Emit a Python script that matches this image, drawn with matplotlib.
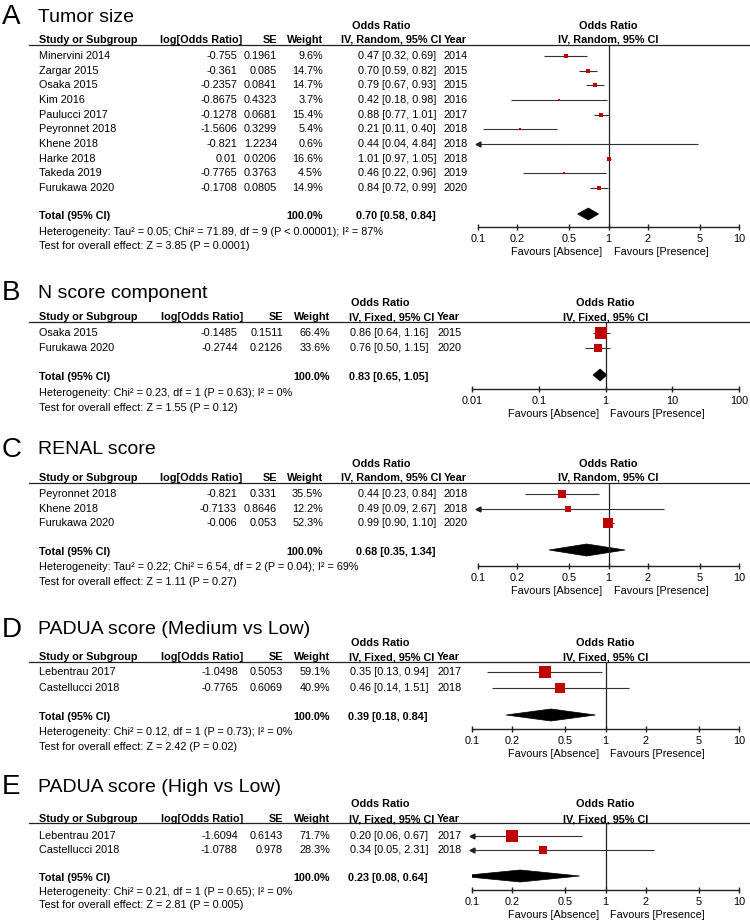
import matplotlib
matplotlib.use("Agg")
import matplotlib.pyplot as plt
from matplotlib.patches import Polygon
from matplotlib.ticker import FixedLocator, FixedFormatter, NullLocator
import numpy as np

plt.rcParams['font.family'] = ['Liberation Sans', 'DejaVu Sans']

W, H = 750, 923

# ---------------- Data ----------------
# A: Tumor size (random effects)
a_studies = ["Minervini 2014", "Zargar 2015", "Osaka 2015", "Kim 2016", "Paulucci 2017",
             "Peyronnet 2018", "Khene 2018", "Harke 2018", "Takeda 2019", "Furukawa 2020"]
a_logor = ["-0.755", "-0.361", "-0.2357", "-0.8675", "-0.1278", "-1.5606", "-0.821", "0.01", "-0.7765", "-0.1708"]
a_se = ["0.1961", "0.085", "0.0841", "0.4323", "0.0681", "0.3299", "1.2234", "0.0206", "0.3763", "0.0805"]
a_weight = [9.6, 14.7, 14.7, 3.7, 15.4, 5.4, 0.6, 16.6, 4.5, 14.9]
a_or = [0.47, 0.70, 0.79, 0.42, 0.88, 0.21, 0.44, 1.01, 0.46, 0.84]
a_lo = [0.32, 0.59, 0.67, 0.18, 0.77, 0.11, 0.04, 0.97, 0.22, 0.72]
a_hi = [0.69, 0.82, 0.93, 0.98, 1.01, 0.40, 4.84, 1.05, 0.96, 0.99]
a_year = [2014, 2015, 2015, 2016, 2017, 2018, 2018, 2018, 2019, 2020]
a_total = [0.70, 0.58, 0.84]
a_het = "Heterogeneity: Tau\u00b2 = 0.05; Chi\u00b2 = 71.89, df = 9 (P < 0.00001); I\u00b2 = 87%"
a_test = "Test for overall effect: Z = 3.85 (P = 0.0001)"

# B: N score component (fixed effect)
b_studies = ["Osaka 2015", "Furukawa 2020"]
b_logor = ["-0.1485", "-0.2744"]
b_se = ["0.1511", "0.2126"]
b_weight = [66.4, 33.6]
b_or = [0.86, 0.76]
b_lo = [0.64, 0.50]
b_hi = [1.16, 1.15]
b_year = [2015, 2020]
b_total = [0.83, 0.65, 1.05]
b_het = "Heterogeneity: Chi\u00b2 = 0.23, df = 1 (P = 0.63); I\u00b2 = 0%"
b_test = "Test for overall effect: Z = 1.55 (P = 0.12)"

# C: RENAL score (random effects)
c_studies = ["Peyronnet 2018", "Khene 2018", "Furukawa 2020"]
c_logor = ["-0.821", "-0.7133", "-0.006"]
c_se = ["0.331", "0.8646", "0.053"]
c_weight = [35.5, 12.2, 52.3]
c_or = [0.44, 0.49, 0.99]
c_lo = [0.23, 0.09, 0.90]
c_hi = [0.84, 2.67, 1.10]
c_year = [2018, 2018, 2020]
c_total = [0.68, 0.35, 1.34]
c_het = "Heterogeneity: Tau\u00b2 = 0.22; Chi\u00b2 = 6.54, df = 2 (P = 0.04); I\u00b2 = 69%"
c_test = "Test for overall effect: Z = 1.11 (P = 0.27)"

# D: PADUA score (Medium vs Low, fixed effect)
d_studies = ["Lebentrau 2017", "Castellucci 2018"]
d_logor = ["-1.0498", "-0.7765"]
d_se = ["0.5053", "0.6069"]
d_weight = [59.1, 40.9]
d_or = [0.35, 0.46]
d_lo = [0.13, 0.14]
d_hi = [0.94, 1.51]
d_year = [2017, 2018]
d_total = [0.39, 0.18, 0.84]
d_het = "Heterogeneity: Chi\u00b2 = 0.12, df = 1 (P = 0.73); I\u00b2 = 0%"
d_test = "Test for overall effect: Z = 2.42 (P = 0.02)"

# E: PADUA score (High vs Low, fixed effect)
e_studies = ["Lebentrau 2017", "Castellucci 2018"]
e_logor = ["-1.6094", "-1.0788"]
e_se = ["0.6143", "0.978"]
e_weight = [71.7, 28.3]
e_or = [0.20, 0.34]
e_lo = [0.06, 0.05]
e_hi = [0.67, 2.31]
e_year = [2017, 2018]
e_total = [0.23, 0.08, 0.64]
e_het = "Heterogeneity: Chi\u00b2 = 0.21, df = 1 (P = 0.65); I\u00b2 = 0%"
e_test = "Test for overall effect: Z = 2.81 (P = 0.005)"

ticks_narrow = [0.1, 0.2, 0.5, 1, 2, 5, 10]
ticks_narrow_lbl = ["0.1", "0.2", "0.5", "1", "2", "5", "10"]
ticks_wide = [0.01, 0.1, 1, 10, 100]
ticks_wide_lbl = ["0.01", "0.1", "1", "10", "100"]

panels = [
    dict(letter="A", title="Tumor size", model="Random", studies=a_studies, logor=a_logor, se=a_se,
         weight=a_weight, est=a_or, lo=a_lo, hi=a_hi, year=a_year, total=a_total, het=a_het, test=a_test,
         ticks=ticks_narrow, tlbl=ticks_narrow_lbl),
    dict(letter="B", title="N score component", model="Fixed", studies=b_studies, logor=b_logor, se=b_se,
         weight=b_weight, est=b_or, lo=b_lo, hi=b_hi, year=b_year, total=b_total, het=b_het, test=b_test,
         ticks=ticks_wide, tlbl=ticks_wide_lbl),
    dict(letter="C", title="RENAL score", model="Random", studies=c_studies, logor=c_logor, se=c_se,
         weight=c_weight, est=c_or, lo=c_lo, hi=c_hi, year=c_year, total=c_total, het=c_het, test=c_test,
         ticks=ticks_narrow, tlbl=ticks_narrow_lbl),
    dict(letter="D", title="PADUA score (Medium vs Low)", model="Fixed", studies=d_studies, logor=d_logor,
         se=d_se, weight=d_weight, est=d_or, lo=d_lo, hi=d_hi, year=d_year, total=d_total, het=d_het,
         test=d_test, ticks=ticks_narrow, tlbl=ticks_narrow_lbl),
    dict(letter="E", title="PADUA score (High vs Low)", model="Fixed", studies=e_studies, logor=e_logor,
         se=e_se, weight=e_weight, est=e_or, lo=e_lo, hi=e_hi, year=e_year, total=e_total, het=e_het,
         test=e_test, ticks=ticks_narrow, tlbl=ticks_narrow_lbl),
]

# ---------------- Layout (pixels, y from top) ----------------
layout = [
    dict(title=17, orhdr=26, header=40, line=45, row0=56, step=14.67, total=216, het=232, test=246,
         axis=227, x0=478, x1=739, box=1.1),
    dict(title=293, orhdr=303, header=317, line=322, row0=333, step=15, total=377, het=393, test=408,
         axis=389, x0=472, x1=739, box=1.47),
    dict(title=450, orhdr=464, header=478, line=483, row0=494, step=14.5, total=552, het=567, test=582,
         axis=566, x0=478, x1=739, box=1.47),
    dict(title=630, orhdr=643, header=657, line=662, row0=672, step=16, total=717, het=732, test=747,
         axis=729, x0=472, x1=739, box=1.47),
    dict(title=787, orhdr=804, header=819, line=823, row0=836, step=14, total=878, het=892, test=905,
         axis=890, x0=472, x1=739, box=1.47),
]

cols_random = dict(name=39, logor_h=242, logor=237, se=277, wt=323, orr=436, orhdr=441, year=444, orc=381)
cols_fixed = dict(name=39, logor_h=243, logor=238, se=283, wt=330, orr=428, orhdr=434, year=437, orc=380)

FS = 7.8
RED = "#C00000"
LINE = "#333333"

fig = plt.figure(figsize=(W / 100, H / 100), dpi=100)
bg = fig.add_axes([0, 0, 1, 1])
bg.set_xlim(0, W)
bg.set_ylim(H, 0)
bg.axis("off")


def txt(x, y, s, **kw):
    kw.setdefault("fontsize", FS)
    kw.setdefault("va", "center")
    bg.text(x, y, s, **kw)


for p, L in zip(panels, layout):
    c = cols_random if p["model"] == "Random" else cols_fixed
    ticks = p["ticks"]
    xmin, xmax = ticks[0], ticks[-1]
    # pixel position of OR = 1
    x_one = L["x0"] + (L["x1"] - L["x0"]) * (0 - np.log10(xmin)) / (np.log10(xmax) - np.log10(xmin))

    # titles
    txt(2, L["title"], p["letter"], fontsize=20)
    txt(38, L["title"], p["title"], fontsize=14)

    # column headers
    txt(c["orc"], L["orhdr"], "Odds Ratio", fontweight="bold", ha="center")
    txt(x_one, L["orhdr"], "Odds Ratio", fontweight="bold", ha="center")
    ci_lbl = "IV, %s, 95%% CI" % p["model"]
    txt(c["name"], L["header"], "Study or Subgroup", fontweight="bold")
    txt(c["logor_h"], L["header"], "log[Odds Ratio]", fontweight="bold", ha="right")
    txt(c["se"], L["header"], "SE", fontweight="bold", ha="right")
    txt(c["wt"], L["header"], "Weight", fontweight="bold", ha="right")
    txt(c["orhdr"], L["header"], ci_lbl, fontweight="bold", ha="right")
    txt(c["year"], L["header"], "Year", fontweight="bold")
    txt(x_one, L["header"], ci_lbl, fontweight="bold", ha="center")
    bg.plot([29, W], [L["line"], L["line"]], color="#222222", lw=0.9)

    # study rows
    row_y = [L["row0"] + i * L["step"] for i in range(len(p["studies"]))]
    for i, y in enumerate(row_y):
        txt(c["name"], y, p["studies"][i])
        txt(c["logor"], y, p["logor"][i], ha="right")
        txt(c["se"], y, p["se"][i], ha="right")
        txt(c["wt"], y, "%.1f%%" % p["weight"][i], ha="right")
        txt(c["orr"], y, "%.2f [%.2f, %.2f]" % (p["est"][i], p["lo"][i], p["hi"][i]), ha="right")
        txt(c["year"], y, str(p["year"][i]))

    # totals
    tot = p["total"]
    txt(c["name"], L["total"], "Total (95% CI)", fontweight="bold")
    txt(c["wt"], L["total"], "100.0%", fontweight="bold", ha="right")
    txt(c["orr"], L["total"], "%.2f [%.2f, %.2f]" % (tot[0], tot[1], tot[2]), fontweight="bold", ha="right")
    txt(c["name"], L["het"], p["het"])
    txt(c["name"], L["test"], p["test"])

    # forest plot axes
    ax = fig.add_axes([L["x0"] / W, 1 - L["axis"] / H, (L["x1"] - L["x0"]) / W, (L["axis"] - L["line"]) / H])
    ax.patch.set_visible(False)
    ax.set_xscale("log")
    ax.set_xlim(xmin, xmax)
    ax.set_ylim(L["axis"], L["line"])
    for s in ["top", "left", "right"]:
        ax.spines[s].set_visible(False)
    ax.spines["bottom"].set_linewidth(1.0)
    ax.spines["bottom"].set_color("#222222")
    ax.yaxis.set_major_locator(NullLocator())
    ax.xaxis.set_major_locator(FixedLocator(ticks))
    ax.xaxis.set_major_formatter(FixedFormatter(p["tlbl"]))
    ax.xaxis.set_minor_locator(NullLocator())
    ax.tick_params(axis="x", direction="inout", length=5, width=1.0, color="#222222",
                   labelsize=FS, pad=2.5)
    ax.axvline(1, color="#222222", lw=0.9)

    for i, y in enumerate(row_y):
        lo = max(p["lo"][i], xmin)
        hi = min(p["hi"][i], xmax)
        ax.plot([lo, hi], [y, y], color=LINE, lw=0.8, solid_capstyle="butt")
        if p["lo"][i] < xmin:
            ax.plot([xmin], [y], marker="<", ms=3.5, color="#222222", clip_on=False)
        if p["hi"][i] > xmax:
            ax.plot([xmax], [y], marker=">", ms=3.5, color="#222222", clip_on=False)
        side = L["box"] * np.sqrt(p["weight"][i]) / 1.389
        ax.plot([p["est"][i]], [y], marker="s", ms=max(side, 0.8), color=RED, mew=0)

    # pooled estimate diamond
    yd = L["total"] - 2
    hd = 6
    dia = Polygon([(tot[1], yd), (tot[0], yd - hd), (tot[2], yd), (tot[0], yd + hd)],
                  closed=True, facecolor="black", edgecolor="black", lw=0.5)
    ax.add_patch(dia)

    # favours labels
    fy = L["axis"] + 25
    txt(x_one - 6, fy, "Favours [Absence]", ha="right")
    txt(x_one + 5, fy, "Favours [Presence]", ha="left")

fig.savefig("out.png", dpi=100)
